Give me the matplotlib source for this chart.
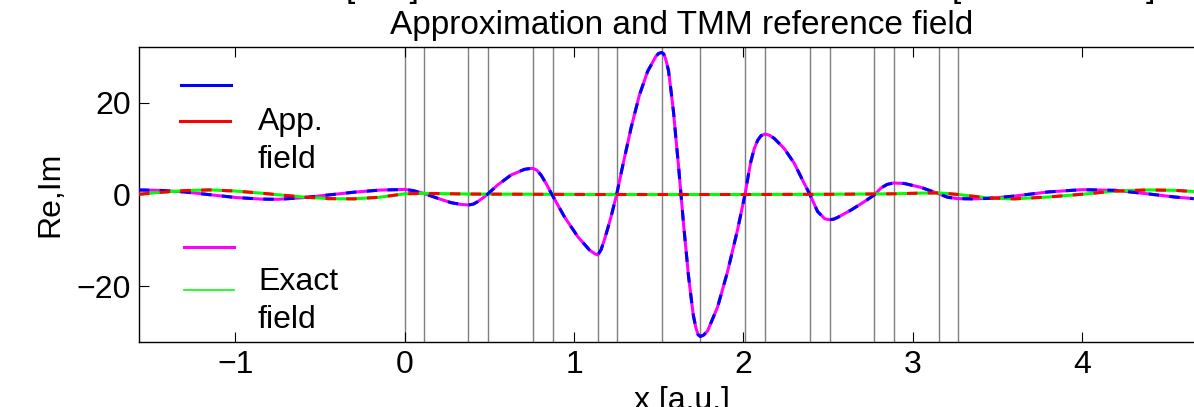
import matplotlib
matplotlib.use("Agg")
import matplotlib.pyplot as plt
from matplotlib.lines import Line2D

plt.rcParams["font.family"] = ["Liberation Sans", "DejaVu Sans"]

# layer boundaries of the stack
boundaries = [0.0, 0.112, 0.376, 0.492, 0.758, 0.874, 1.141, 1.253, 1.518,
              1.746, 2.010, 2.128, 2.395, 2.510, 2.774, 2.890, 3.156, 3.271]

# real part of the field (approximation and TMM coincide)
re_x = [-1.57, -1.45, -1.3, -1.15, -1.0, -0.85, -0.75, -0.6, -0.45, -0.3, -0.15, 0.0,
        0.05, 0.106, 0.15, 0.195, 0.274, 0.33, 0.376, 0.405, 0.431, 0.46, 0.49,
        0.549, 0.628, 0.707, 0.74, 0.758, 0.78, 0.805, 0.835, 0.868, 0.943, 1.022,
        1.091, 1.125, 1.141, 1.16, 1.179, 1.2, 1.219, 1.252, 1.288, 1.337, 1.386,
        1.435, 1.484, 1.50, 1.518, 1.53, 1.543, 1.558, 1.573, 1.588, 1.602, 1.617,
        1.632, 1.647, 1.661, 1.676, 1.691, 1.705, 1.72, 1.733, 1.746, 1.765, 1.789,
        1.848, 1.907, 1.966, 2.01, 2.03, 2.045, 2.065, 2.085, 2.105, 2.128, 2.155,
        2.183, 2.242, 2.301, 2.35, 2.392, 2.439, 2.482, 2.51, 2.535, 2.557, 2.636,
        2.715, 2.774, 2.813, 2.85, 2.886, 2.951, 3.049, 3.148, 3.207, 3.266, 3.35,
        3.45, 3.6, 3.8, 4.0, 4.2, 4.4, 4.55, 4.66]
re_val = [0.98, 0.9, 0.55, -0.05, -0.65, -1.0, -1.05, -0.7, -0.1, 0.5, 0.95, 1.1,
          0.85, 0.3, -0.25, -0.83, -1.78, -2.15, -2.28, -2.1, -1.56, -0.8, 0.1,
          2.07, 4.24, 5.47, 5.65, 5.69, 5.3, 4.24, 2.4, 0.1, -4.82, -9.17,
          -12.07, -12.95, -13.15, -12.0, -9.9, -7.3, -4.8, 0.04, 6.3, 14.5, 21.6,
          26.8, 30.1, 30.7, 30.9, 30.6, 29.3, 27.0, 22.6, 17.9, 12.2, 6.4,
          0.0, -6.4, -11.8, -17.6, -22.2, -26.3, -29.0, -30.5, -30.9, -30.6, -29.7,
          -24.5, -16.8, -7.7, 0.0, 4.2, 7.2, 10.0, 11.8, 12.8, 13.15, 12.9,
          12.2, 10.0, 6.8, 3.15, 0.1, -3.7, -5.3, -5.5, -5.35, -5.0, -3.4,
          -1.56, -0.1, 1.4, 2.2, 2.5, 2.4, 1.56, 0.26, -0.6, -0.9, -0.95,
          -0.85, -0.35, 0.55, 1.05, 0.9, 0.1, -0.55, -0.9]

# imaginary part of the field
im_x = [-1.57, -1.45, -1.3, -1.15, -1.0, -0.85, -0.75, -0.6, -0.45, -0.3, -0.15, 0.0,
        0.112, 0.376, 0.758, 1.141, 1.518, 2.01, 2.51, 2.89, 3.05, 3.156, 3.271,
        3.35, 3.45, 3.6, 3.8, 4.0, 4.2, 4.4, 4.55, 4.66]
im_val = [0.05, 0.45, 0.85, 1.0, 0.75, 0.3, -0.05, -0.55, -0.9, -0.95, -0.6, 0.15,
          0.25, 0.1, 0.05, 0.0, 0.0, 0.0, 0.05, 0.15, 0.3, 0.35, 0.0,
          -0.35, -0.75, -0.95, -0.55, 0.05, 0.75, 1.0, 0.9, 0.65]

W, H = 1194, 407
fig = plt.figure(figsize=(W / 100, H / 100), dpi=100)
ax = fig.add_axes([139 / W, 1 - 342 / H, (1224 - 139) / W, (342 - 47) / H])

for b in boundaries:
    ax.axvline(b, color="#7f7f7f", lw=1.0, zorder=1)

dash = (0, (3.4, 3.4))
ax.plot(re_x, re_val, color="magenta", lw=2.2, zorder=3)
ax.plot(re_x, re_val, color="blue", lw=2.2, ls=dash, zorder=4)
ax.plot(im_x, im_val, color="#00ff00", lw=2.2, zorder=3)
ax.plot(im_x, im_val, color="red", lw=2.2, ls=dash, zorder=4)

ax.set_xlim(-1.57, 4.84)
ax.set_ylim(-32.1, 32.1)
ax.set_xticks([-1, 0, 1, 2, 3, 4])
ax.set_yticks([-20, 0, 20])
ax.set_yticklabels(["\u221220", "0", "20"])
ax.set_xticklabels(["\u22121", "0", "1", "2", "3", "4"])
ax.tick_params(direction="in", length=7, width=0.8, labelsize=23, pad=6,
               top=True, right=True)
for s in ax.spines.values():
    s.set_linewidth(1.0)

ax.set_title("Approximation and TMM reference field", fontsize=24, pad=9)
ax.set_xlabel("x [a.u.]", fontsize=23, labelpad=4)
ax.set_ylabel("Re,Im", fontsize=23, labelpad=8)

# top title line, mostly outside the picture
fig.text(346 / W, 1 + 3 / H, "[a.u.]", fontsize=24, va="baseline", ha="left")
fig.text(952 / W, 1 + 3 / H, "[", fontsize=24, va="baseline", ha="left")
fig.text(1146 / W, 1 + 3 / H, "]", fontsize=24, va="baseline", ha="left")

# legend drawn by hand, MATLAB style
def px(x, y):
    return x / W, 1 - y / H

legend_items = [
    ("blue", 2.2, 181, 231, 85),
    ("red", 2.2, 180, 230, 121),
    ("magenta", 2.2, 184, 234, 247),
    ("#00ff00", 1.2, 184, 234, 290),
]
for color, lw, x0, x1, y in legend_items:
    (a, b), (c, d) = px(x0, y), px(x1, y)
    fig.add_artist(Line2D([a, c], [b, d], color=color, lw=lw))

for txt, y in [("App.", 130), ("field", 168), ("Exact", 290), ("field", 328)]:
    fx, fy = px(258, y)
    fig.text(fx, fy, txt, fontsize=23, va="baseline", ha="left")

fig.savefig("out.png", dpi=100)
